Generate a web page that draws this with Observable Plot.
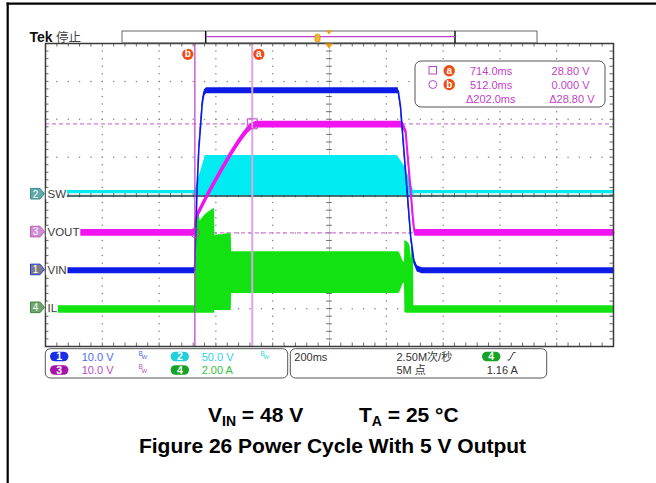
<!DOCTYPE html>
<html><head><meta charset="utf-8">
<script src="https://cdn.jsdelivr.net/npm/d3@7"></script>
<script src="https://cdn.jsdelivr.net/npm/@observablehq/plot@0.6"></script>
<style>
html,body{margin:0;padding:0;background:#fff;}
#chart{position:relative;width:656px;height:483px;overflow:hidden;}
</style></head><body><div id="chart"></div>
<script>
// ---------- data ----------
const timeDomain = [-14, 1986];          // ms across 10 divisions (200 ms/div)
const divisionsX = 10, divisionsY = 8;
const chScale = {vin: 10, sw: 50, vout: 10, il: 2};   // units per division
const chGround = {vin: 2, sw: 4, vout: 3, il: 1};     // ground level (div from bottom)
const chNames = ["SW", "VOUT", "VIN", "IL"];
const chNumbers = ["2", "3", "1", "4"];
const chKeys = ["sw", "vout", "vin", "il"];

const cursorTimes = [714.0, 512.0];       // a, b (ms)
const cursorVolts = [28.80, 0.000];       // a, b (V)
const cursorLabels = ["a", "b"];

// Channel 1: VIN (V)
const vinTime  = [-14, 510.6, 514.2, 520, 525.8, 531.8, 537.8, 542, 545.9, 553, 565, 1228, 1236, 1250, 1262, 1272, 1283, 1295, 1312, 1986];
const vinVolts = [0, 0, 8, 22, 32, 38, 44, 46, 47, 47.5, 47.5, 47.5, 43.5, 30, 18.5, 9, 2.7, 0.5, 0, 0];
// Channel 3: VOUT (V)
const voutTime  = [-14, 511, 512.5, 519, 555, 579, 610, 637, 665, 684, 700, 714, 729, 1241, 1246, 1254, 1262, 1271, 1279, 1283, 1287, 1986];
const voutVolts = [0, 0, 2.5, 4.3, 9.6, 12.9, 17, 20.5, 23.8, 25.8, 27.3, 28.2, 28.6, 28.6, 28.2, 27, 19.7, 12, 4.5, 1.5, 0, 0];
// Channel 2: SW envelope (V)
const swTime = [-14, 512, 512.4, 549, 1224, 1236, 1250, 1265, 1275, 1283, 1284, 1986];
const swLow  = [1.5, 1.5, -1, -1, -1, -1, -1, -1, -1, -1, 1.5, 1.5];
const swHigh = [6, 6, 6, 52, 52, 46, 38, 24, 13, 5, 6, 6];
// Channel 4: IL envelope (A)
const ilTime = [-14, 512, 512.5, 516, 521, 527, 531, 535, 545, 556, 566, 576, 581, 582.5, 595, 610, 625, 640, 641.5, 1229, 1232, 1236, 1241, 1245, 1250, 1251.5, 1258, 1265, 1270, 1273, 1276, 1282, 1283, 1986];
const ilLow  = [-0.25, -0.25, -0.25, -0.25, -0.25, -0.25, -0.25, -0.25, -0.25, -0.25, -0.25, -0.25, -0.25, -0.1, -0.1, -0.1, -0.1, -0.1, 0.8, 0.8, 0.85, 0.95, 1.15, 1.3, 1.35, -0.2, -0.25, -0.25, -0.25, -0.25, -0.25, -0.25, -0.25, -0.25];
const ilHigh = [0.15, 0.15, 4.0, 4.7, 5.0, 5.05, 4.6, 4.7, 4.9, 5.05, 5.15, 5.25, 5.3, 3.85, 3.9, 3.9, 3.95, 3.95, 3.0, 3.0, 2.95, 2.85, 2.65, 2.5, 2.45, 3.6, 3.55, 3.45, 3.3, 2.6, 3.3, 3.2, 0.15, 0.15];

const noiseVin = 0.8, noiseVout = 0.9;    // half band width of the noisy traces (V)

// ---------- layout ----------
const W = 656, H = 483;
const M = {left: 45, right: 43, top: 43, bottom: 137};
const innerW = W - M.left - M.right, innerH = H - M.top - M.bottom;
const msPerDiv = (timeDomain[1] - timeDomain[0]) / divisionsX;
const tickMs = 3.5 * (timeDomain[1] - timeDomain[0]) / innerW;
const tickDiv = 3.5 * divisionsY / innerH;
const tCenter = timeDomain[0] + msPerDiv * divisionsX / 2;
const yCenter = divisionsY / 2;
const FONT = '"Liberation Sans", Arial, "Noto Sans CJK SC", sans-serif';

const toDiv = (ch, v) => chGround[ch] + v / chScale[ch];

const vinData = vinTime.map((t, i) => ({t, lo: toDiv("vin", vinVolts[i] - noiseVin), hi: toDiv("vin", vinVolts[i] + noiseVin), y: toDiv("vin", vinVolts[i])}));
const voutData = voutTime.map((t, i) => ({t, lo: toDiv("vout", voutVolts[i] - noiseVout), hi: toDiv("vout", voutVolts[i] + noiseVout), y: toDiv("vout", voutVolts[i])}));
const swData = swTime.map((t, i) => ({t, lo: toDiv("sw", swLow[i]), hi: toDiv("sw", swHigh[i])}));
const ilData = ilTime.map((t, i) => ({t, lo: toDiv("il", ilLow[i]), hi: toDiv("il", ilHigh[i])}));

const majorX = d3.range(1, divisionsX).filter(k => k !== divisionsX / 2).map(k => timeDomain[0] + k * msPerDiv);
const majorY = d3.range(1, divisionsY).filter(k => k !== divisionsY / 2);
const minorX = d3.range(0, divisionsX * 5 + 1).map(j => timeDomain[0] + j * msPerDiv / 5);
const minorY = d3.range(0, divisionsY * 5 + 1).map(j => j / 5);
const gridDots = [
  ...majorX.flatMap(x => minorY.map(y => ({x, y}))),
  ...majorY.flatMap(y => minorX.map(x => ({x, y})))
];
const cursorPts = cursorTimes.map((t, i) => ({t, y: toDiv("vout", cursorVolts[i]), label: cursorLabels[i]}));

const tickStyle = {stroke: "#6a6a6a", strokeWidth: 1};
const tagMarks = (p, dx) => [
  Plot.dot([p], {x: "t", y: divisionsY, dx, dy: 10.8, r: 5.6, fill: "#f04b14", stroke: null}),
  Plot.text([p], {x: "t", y: divisionsY, text: "label", dx, dy: 10.3, fill: "#fff", fontWeight: "bold", fontSize: 10})
];

const plot = Plot.plot({
  width: W, height: H,
  marginLeft: M.left, marginRight: M.right, marginTop: M.top, marginBottom: M.bottom,
  x: {domain: timeDomain, axis: null},
  y: {domain: [0, divisionsY], axis: null},
  style: {background: "#fff", fontFamily: FONT, fontSize: "11px", overflow: "visible"},
  marks: [
    Plot.dot(gridDots, {x: "x", y: "y", r: 0.75, fill: "#808080", stroke: null}),
    Plot.ruleX([tCenter], {stroke: "#c6c6c6", strokeWidth: 1}),
    Plot.ruleY([yCenter], {stroke: "#c6c6c6", strokeWidth: 1}),
    Plot.ruleY(minorY, {y: d => d, x1: tCenter - tickMs * 0.8, x2: tCenter + tickMs * 0.8, ...tickStyle}),
    Plot.ruleX(minorX, {x: d => d, y1: yCenter - tickDiv * 0.8, y2: yCenter + tickDiv * 0.8, ...tickStyle}),
    Plot.ruleX(minorX, {x: d => d, y1: divisionsY, y2: divisionsY - tickDiv, ...tickStyle}),
    Plot.ruleX(minorX, {x: d => d, y1: 0, y2: tickDiv, ...tickStyle}),
    Plot.ruleY(minorY, {y: d => d, x1: timeDomain[0], x2: timeDomain[0] + tickMs, ...tickStyle}),
    Plot.ruleY(minorY, {y: d => d, x1: timeDomain[1] - tickMs, x2: timeDomain[1], ...tickStyle}),
    // horizontal cursors (dashed)
    Plot.ruleY(cursorPts, {y: "y", stroke: "#d27ad8", strokeWidth: 1.2, strokeDasharray: "4,3"}),
    // IL (ch4)
    Plot.areaY(ilData, {x: "t", y1: "lo", y2: "hi", fill: "#12e212"}),
    // SW (ch2)
    Plot.areaY(swData, {x: "t", y1: "lo", y2: "hi", fill: "#00ecf2"}),
    Plot.ruleY([toDiv("sw", -1.3)], {stroke: "#1a4646", strokeWidth: 1.4}),
    // VOUT (ch3)
    Plot.areaY(voutData, {x: "t", y1: "lo", y2: "hi", fill: "#f014f0"}),
    Plot.line(voutData, {x: "t", y: "y", stroke: "#f014f0", strokeWidth: 2}),
    // VIN (ch1)
    Plot.areaY(vinData, {x: "t", y1: "lo", y2: "hi", fill: "#0c1ce6"}),
    Plot.line(vinData, {x: "t", y: "y", stroke: "#0c1ce6", strokeWidth: 1.6}),
    // vertical cursors
    Plot.ruleX([cursorTimes[1]], {stroke: "#c436c8", strokeWidth: 1.2}),
    Plot.ruleX([cursorTimes[0]], {stroke: "#dba6e3", strokeWidth: 2}),
    Plot.dot([cursorPts[0]], {x: "t", y: "y", symbol: "square", r: 5.6, stroke: "#c040c8", fill: "none", strokeWidth: 1}),
    Plot.dot([cursorPts[1]], {x: "t", y: "y", r: 4.5, stroke: "#c040c8", fill: "none", strokeWidth: 1}),
    // cursor tags
    ...tagMarks(cursorPts[0], 6.6),
    ...tagMarks(cursorPts[1], -7.1),
    Plot.frame({stroke: "#3a3a3a", strokeWidth: 1.5})
  ]
});
document.getElementById("chart").appendChild(plot);

// ---------- scope decorations ----------
const sx = plot.scale("x").apply, sy = plot.scale("y").apply;
const svg = d3.select(plot);
const g = svg.append("g").attr("font-family", FONT);
function text(x, y, s, o = {}) {
  const t = g.append("text").attr("x", x).attr("y", y).text(s)
    .attr("font-size", o.size || 11).attr("fill", o.fill || "#333")
    .attr("text-anchor", o.anchor || "start");
  if (o.weight) t.attr("font-weight", o.weight);
  return t;
}
// page frame
g.append("line").attr("x1", 6.6).attr("x2", W).attr("y1", 3.7).attr("y2", 3.7).attr("stroke", "#000").attr("stroke-width", 2.2);
g.append("line").attr("x1", 7.7).attr("x2", 7.7).attr("y1", 2.6).attr("y2", H).attr("stroke", "#000").attr("stroke-width", 2.2);

// header
text(29.5, 41.5, "Tek", {size: 14, weight: "bold", fill: "#111"});
text(56, 41.5, "停止", {size: 12.5, fill: "#444"});
g.append("rect").attr("x", 122).attr("y", 31).attr("width", 415).attr("height", 11.8).attr("fill", "#fff").attr("stroke", "#666").attr("stroke-width", 1);
g.append("line").attr("x1", 205.7).attr("x2", 205.7).attr("y1", 31).attr("y2", 43).attr("stroke", "#111").attr("stroke-width", 1.5);
g.append("line").attr("x1", 455).attr("x2", 455).attr("y1", 31).attr("y2", 43).attr("stroke", "#111").attr("stroke-width", 1.5);
g.append("line").attr("x1", 206.5).attr("x2", 455).attr("y1", 36.6).attr("y2", 36.6).attr("stroke", "#c040c8").attr("stroke-width", 1.2);
g.append("rect").attr("x", 315).attr("y", 34.2).attr("width", 5).attr("height", 7.5).attr("rx", 1.5).attr("fill", "#f6b53a").attr("stroke", "#e08a00").attr("stroke-width", 0.8);
const xc = sx(tCenter);
g.append("path").attr("d", `M${xc - 3},30.5 L${xc + 3},30.5 L${xc},34.5 Z`).attr("fill", "#f49a10");
g.append("path").attr("d", `M${xc - 4},43.5 L${xc + 4},43.5 L${xc},48.5 Z`).attr("fill", "#f49a10");

// cursor readout box
g.append("rect").attr("x", 415).attr("y", 61).attr("width", 190).attr("height", 46).attr("rx", 6).attr("fill", "#fff").attr("stroke", "#555").attr("stroke-width", 1);
const cm = "#c13fc8";
g.append("rect").attr("x", 429).attr("y", 66.5).attr("width", 7.5).attr("height", 7.5).attr("fill", "none").attr("stroke", cm).attr("stroke-width", 1);
g.append("circle").attr("cx", 432.8).attr("cy", 84.5).attr("r", 4).attr("fill", "none").attr("stroke", cm).attr("stroke-width", 1);
[["a", 70.7], ["b", 84.5]].forEach(([l, cy]) => {
  g.append("circle").attr("cx", 449.2).attr("cy", cy).attr("r", 5.7).attr("fill", "#f04b14");
  text(449.2, cy + 3.5, l, {size: 10, weight: "bold", fill: "#fff", anchor: "middle"});
});
const fmt = d3.format(".1f"), fmtV = v => (v === 0 ? "0.000" : d3.format(".2f")(v)) + " V";
text(470, 74.8, fmt(cursorTimes[0]) + "ms", {fill: cm});
text(470, 88.6, fmt(cursorTimes[1]) + "ms", {fill: cm});
text(466, 102.5, "Δ" + fmt(cursorTimes[0] - cursorTimes[1]) + "ms", {fill: cm});
text(589.5, 74.8, fmtV(cursorVolts[0]), {fill: cm, anchor: "end"});
text(589.5, 88.6, fmtV(cursorVolts[1]), {fill: cm, anchor: "end"});
text(594.5, 102.5, "Δ" + fmtV(cursorVolts[0] - cursorVolts[1]), {fill: cm, anchor: "end"});

// channel markers and labels
const markerFill = {sw: "#5fa9ab", vout: "#d48bd6", vin: "#7c7c86", il: "#6fa36f"};
const markerStroke = {sw: "#3c8a8c", vout: "#b760b9", vin: "#1f36e0", il: "#3f8a3f"};
chKeys.forEach((k, i) => {
  const cy = sy(chGround[k]) - 0.8;
  const lab = text(47.5, cy + 4.2, chNames[i], {size: 11.5, fill: "#3a3a3a"});
  const w = lab.node().getComputedTextLength();
  g.insert("rect", () => lab.node()).attr("x", 45.8).attr("y", cy - 5.5).attr("width", w + 2.5).attr("height", 11).attr("fill", "#fff");
  g.append("path").attr("d", `M30.5,${cy - 5.3} H40 L44.5,${cy} L40,${cy + 5.3} H30.5 Z`).attr("fill", markerFill[k]).attr("stroke", markerStroke[k]).attr("stroke-width", 1);
  text(35.6, cy + 3.8, chNumbers[i], {size: 10, fill: "#fff", anchor: "middle"});
});

// bottom info boxes
const boxY = 348.7, boxH = 29.3;
g.append("rect").attr("x", 45.3).attr("y", boxY).attr("width", 242.4).attr("height", boxH).attr("rx", 5).attr("fill", "#fff").attr("stroke", "#555");
g.append("rect").attr("x", 290.3).attr("y", boxY).attr("width", 256.4).attr("height", boxH).attr("rx", 5).attr("fill", "#fff").attr("stroke", "#555");
function pill(cx, cy, n, fill) {
  g.append("rect").attr("x", cx - 9.2).attr("y", cy - 4.8).attr("width", 18.4).attr("height", 9.6).attr("rx", 4.8).attr("fill", fill);
  text(cx, cy + 3.8, n, {size: 10.5, weight: "bold", fill: "#fff", anchor: "middle"});
}
function bw(x, y, fill) {
  text(x, y - 2, "B", {size: 6.5, fill});
  text(x + 3, y + 1.5, "W", {size: 6, fill});
}
const r1 = 356.5, r2 = 370;
pill(59.2, r1, "1", "#1a2ee6"); text(81.7, r1 + 4, "10.0 V", {fill: "#4f6cf2"}); bw(138.5, r1 + 1, "#4f6cf2");
pill(179.8, r1, "2", "#1fd0da"); text(201.7, r1 + 4, "50.0 V", {fill: "#2fd2de"}); bw(260.5, r1 + 1, "#2fd2de");
pill(59.2, r2, "3", "#a512ab"); text(81.7, r2 + 4, "10.0 V", {fill: "#b94cc4"}); bw(138.5, r2 + 1, "#b94cc4");
pill(179.8, r2, "4", "#14a324"); text(201.7, r2 + 4, "2.00 A", {fill: "#36c23a"});
text(294.3, r1 + 4, "200ms", {fill: "#333"});
text(396.5, r1 + 4, "2.50M次/秒", {fill: "#333"});
text(396.5, r2 + 4, "5M 点", {fill: "#333"});
pill(491.2, r1, "4", "#14a324");
g.append("path").attr("d", `M507.5,${r1 + 3.5} h2 l4,-7.5 h2`).attr("fill", "none").attr("stroke", "#333").attr("stroke-width", 1);
text(486.7, r2 + 4, "1.16 A", {fill: "#333"});

// caption
const c1 = text(208, 421.5, "", {size: 21, weight: "bold", fill: "#000"});
c1.append("tspan").text("V");
c1.append("tspan").text("IN").attr("font-size", 14).attr("dy", 4);
c1.append("tspan").text(" = 48 V").attr("dy", -4);
const c2 = text(359, 421.5, "", {size: 21, weight: "bold", fill: "#000"});
c2.append("tspan").text("T");
c2.append("tspan").text("A").attr("font-size", 14).attr("dy", 4);
c2.append("tspan").text(" = 25 °C").attr("dy", -4);
text(332.5, 452.5, "Figure 26 Power Cycle With 5 V Output", {size: 21, weight: "bold", fill: "#000", anchor: "middle"});
</script>
</body></html>
